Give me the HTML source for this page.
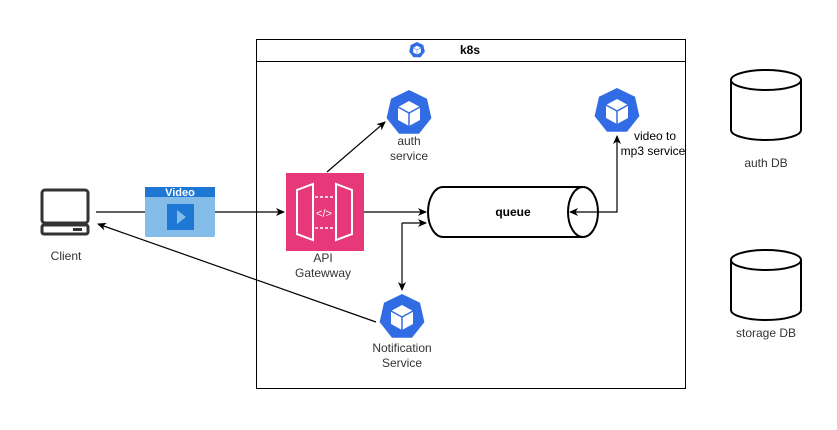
<!DOCTYPE html>
<html><head><style>body{margin:0;background:#fff}svg text{font-family:"Liberation Sans",sans-serif;font-size:12px;fill:#333}</style></head><body>
<svg width="837" height="425" viewBox="0 0 837 425" xmlns="http://www.w3.org/2000/svg">
<defs>
<marker id="a" markerWidth="10" markerHeight="10" refX="8" refY="4" orient="auto" markerUnits="userSpaceOnUse"><path d="M0,0 L9,4 L0,8 L2.5,4 z" fill="#000"/></marker>
<g id="k"><polygon points="0,-23 18,-14.3 22.4,5.1 10,20.7 -10,20.7 -22.4,5.1 -18,-14.3" fill="#326ce5"/><path d="M0,-12 L11,-6 L11,7 L0,13 L-11,7 L-11,-6 Z" fill="#fff"/><path d="M-11,-6 L0,0 L11,-6 M0,0 L0,13" stroke="#326ce5" stroke-width="1.5" fill="none"/></g>
</defs>
<rect x="256.5" y="39.5" width="429" height="349" fill="#fff" stroke="#000"/>
<line x1="256" y1="61.5" x2="685" y2="61.5" stroke="#000"/>
<g transform="translate(417,50) scale(0.35)"><use href="#k"/></g>
<text x="470" y="54" text-anchor="middle" style="font-weight:bold;fill:#000">k8s</text>
<use href="#k" x="409" y="113"/>
<text x="409" y="145" text-anchor="middle">auth</text><text x="409" y="160" text-anchor="middle">service</text>
<use href="#k" x="617" y="111"/>
<text x="655" y="140" text-anchor="middle" style="fill:#000">video to</text><text x="653" y="155" text-anchor="middle" style="fill:#000">mp3 service</text>
<use href="#k" x="402" y="317"/>
<text x="402" y="352" text-anchor="middle">Notification</text><text x="402" y="367" text-anchor="middle">Service</text>
<!-- api gateway -->
<rect x="286" y="173" width="78" height="78" fill="#e7397a"/>
<path d="M297,190 L313,184 L313,240 L297,234 Z M352,190 L336,184 L336,240 L352,234 Z" fill="none" stroke="#fff" stroke-width="2"/>
<path d="M315,197 H334 M315,228 H334" stroke="#fff" stroke-width="1.5" stroke-dasharray="3,2"/>
<text x="324" y="217" text-anchor="middle" style="fill:#fff;font-size:11px">&lt;/&gt;</text>
<text x="323" y="262" text-anchor="middle">API</text><text x="323" y="277" text-anchor="middle">Gatewway</text>
<!-- queue -->
<path d="M443,187 H583 A15,25 0 0 1 583,237 H443 A15,25 0 0 1 443,187 Z" fill="#fff" stroke="#000" stroke-width="2"/>
<path d="M583,187 A15,25 0 0 0 583,237" fill="none" stroke="#000" stroke-width="2"/>
<text x="513" y="216" text-anchor="middle" style="font-weight:bold;fill:#000">queue</text>
<!-- client -->
<rect x="42" y="190" width="46" height="33" rx="3" fill="none" stroke="#333" stroke-width="3"/>
<rect x="42" y="225" width="46" height="9" rx="2" fill="none" stroke="#333" stroke-width="3"/>
<rect x="73" y="228" width="9" height="3" fill="#333"/>
<text x="66" y="260" text-anchor="middle">Client</text>
<!-- video -->
<rect x="145" y="187" width="70" height="50" rx="2" fill="#83bbe9"/>
<rect x="145" y="187" width="70" height="10" fill="#1e78d3"/>
<text x="180" y="196" text-anchor="middle" style="fill:#fff;font-weight:bold;font-size:11px">Video</text>
<rect x="167" y="204" width="27" height="26" fill="#1e78d3"/>
<path d="M177,210 L186,217 L177,224 Z" fill="#83bbe9"/>
<!-- DBs -->
<g fill="#fff" stroke="#000" stroke-width="2">
<path d="M731,80 V130 A35,10 0 0 0 801,130 V80"/><ellipse cx="766" cy="80" rx="35" ry="10"/>
<path d="M731,260 V310 A35,10 0 0 0 801,310 V260"/><ellipse cx="766" cy="260" rx="35" ry="10"/>
</g>
<text x="766" y="167" text-anchor="middle">auth DB</text>
<text x="766" y="337" text-anchor="middle">storage DB</text>
<!-- edges -->
<g stroke="#000" fill="none" stroke-width="1.2">
<line x1="96" y1="212" x2="145" y2="212"/>
<line x1="215" y1="212" x2="284" y2="212" marker-end="url(#a)"/>
<line x1="364" y1="212" x2="426" y2="212" marker-end="url(#a)"/>
<line x1="327" y1="172" x2="385" y2="122" marker-end="url(#a)"/>
<path d="M598,212 H617 V136" marker-end="url(#a)"/>
<line x1="598" y1="212" x2="570" y2="212" marker-end="url(#a)"/>
<path d="M402,223 H426" marker-end="url(#a)"/>
<path d="M402,223 V290" marker-end="url(#a)"/>
<line x1="376" y1="322" x2="98" y2="224" marker-end="url(#a)"/>
</g>
</svg>
</body></html>
